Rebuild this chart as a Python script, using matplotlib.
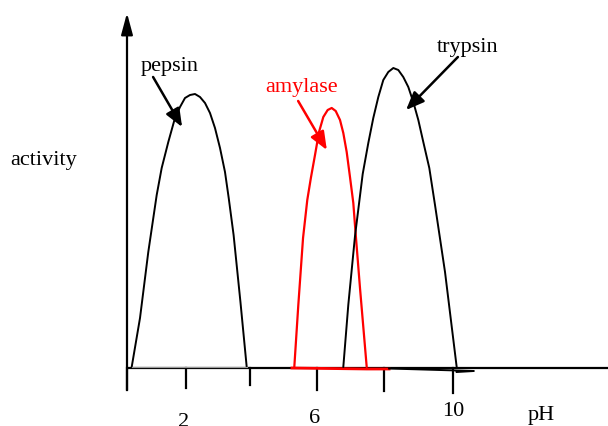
import matplotlib
matplotlib.use("Agg")
import matplotlib.pyplot as plt

# ---- data (pH, activity in arbitrary units) ----
pepsin_ph = [0.144, 0.399, 0.653, 0.911, 1.064, 1.267, 1.472, 1.626, 1.779, 1.933, 2.086,
             2.239, 2.393, 2.546, 2.699, 2.853, 3.006, 3.12, 3.27, 3.48, 3.672]
pepsin_act = [1, 50, 116, 173, 200, 226, 250, 261, 270, 273, 274,
              271, 265, 255, 240, 220, 196, 170, 133, 66, 1]

amylase_ph = [5.132, 5.255, 5.40, 5.53, 5.64, 5.767, 5.890, 6.022, 6.156, 6.279, 6.402,
              6.534, 6.635, 6.739, 6.840, 6.942, 7.0, 7.147, 7.353]
amylase_act = [1, 63, 130, 168, 190, 213, 236, 251, 258, 260, 257,
               248, 235, 216, 191, 165, 140, 80, 1]

trypsin_ph = [6.635, 6.788, 6.994, 7.23, 7.402, 7.555, 7.709, 7.862, 8.015, 8.169, 8.322,
              8.475, 8.629, 8.782, 8.936, 9.089, 9.273, 9.448, 9.755, 10.113]
trypsin_act = [1, 63, 132, 194, 225, 250, 271, 288, 296, 300, 298,
               291, 281, 266, 248, 226, 200, 163, 96, 1]

tick_positions = [0.0, 1.81, 3.77, 5.83, 7.88, 10.0]
tick_labels = ["2", "6", "10"]
tick_label_positions = [1.72, 5.76, 10.0]

FONT = "Liberation Serif"
PX = 32.6  # pixels per pH unit
fig = plt.figure(figsize=(6.08, 4.26), dpi=100)
ax = fig.add_axes([0, 0, 1, 1])
ax.set_xlim(-127 / PX, (608 - 127) / PX)
ax.set_ylim(-58, 368)
ax.axis("off")

lw_axis = 1.6
# x axis
ax.plot([0, (608 - 127) / PX], [0, 0], color="black", lw=lw_axis, solid_capstyle="butt")
# ticks
tick_bottoms = [-22, -20, -17, -22, -23, -25]
for x, b in zip(tick_positions, tick_bottoms):
    ax.plot([x, x], [0, b], color="black", lw=lw_axis)
# y axis with arrow
ax.annotate("", xy=(0, 355), xytext=(0, -22),
            arrowprops=dict(arrowstyle="-|>,head_length=1.3,head_width=0.35",
                            color="black", lw=lw_axis, shrinkA=0, shrinkB=0))

# curves
curve_kw = dict(solid_joinstyle="round", solid_capstyle="round")
ax.plot(pepsin_ph, pepsin_act, color="black", lw=1.4, **curve_kw)
ax.plot([pepsin_ph[0], pepsin_ph[-1]], [1, 1], color="#999999", lw=0.8)
ax.plot(amylase_ph, amylase_act, color="red", lw=1.6, **curve_kw)
ax.plot([5.06, 7.35, 8.04], [0, -1, -1], color="red", lw=2.0)
ax.plot(trypsin_ph, trypsin_act, color="black", lw=1.4, **curve_kw)
ax.plot([trypsin_ph[-1], 10.64, 8.04], [-4, -3, -0.5], color="black", lw=1.4)

# labels with arrows
arrow_kw = dict(arrowstyle="-|>,head_length=1.1,head_width=0.45", lw=1.8, shrinkA=0, shrinkB=0)
ax.annotate("", xy=(1.69, 241), xytext=(0.80, 291), arrowprops=dict(color="black", **arrow_kw))
ax.annotate("", xy=(6.13, 218), xytext=(5.25, 267), arrowprops=dict(color="red", **arrow_kw))
ax.annotate("", xy=(8.56, 258), xytext=(10.15, 311), arrowprops=dict(color="black", **arrow_kw))

fs = 16
ax.text(1.30, 297, "pepsin", fontsize=fs, family=FONT, ha="center", va="baseline")
ax.text(5.37, 276, "amylase", fontsize=fs, family=FONT, ha="center", va="baseline", color="red")
ax.text(10.44, 316, "trypsin", fontsize=fs, family=FONT, ha="center", va="baseline")
ax.text(-2.56, 203, "activity", fontsize=fs, family=FONT, ha="center", va="baseline")
for x, lab, base in zip(tick_label_positions, tick_labels, [-59, -55, -48]):
    ax.text(x, base, lab, fontsize=fs, family=FONT, ha="center", va="baseline")
ax.text(12.72, -52, "pH", fontsize=fs, family=FONT, ha="center", va="baseline")

fig.savefig("out.png", dpi=100)
